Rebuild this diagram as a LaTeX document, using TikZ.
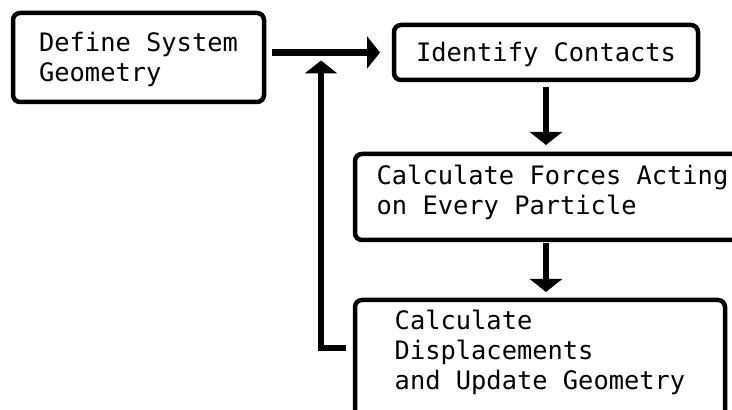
\documentclass[tikz,border=0pt]{standalone}
\usepackage{fontspec}
\setmonofont{DejaVu Sans Mono}
\usetikzlibrary{arrows.meta}

\begin{document}
\begin{tikzpicture}[x=1pt,y=1pt,->,>={Triangle[width=32pt,length=13pt]},line width=6.5pt,
    stepbox/.style={draw,-,rounded corners=7pt,line width=4.5pt,anchor=base west,align=left,
        inner sep=0pt,outer sep=0pt,font=\ttfamily\fontsize{25.4}{30}\selectfont}]
    \useasboundingbox (0,0) rectangle (732,410);

    % base = last line of text
    \node [stepbox, minimum width=251pt, text height=69pt, text depth=20pt](define) at (13,328) {Define System\\Geometry};
    \node [stepbox, minimum width=304pt, text height=37pt, text depth=18pt](contacts) at (394,348) {Identify Contacts};
    \node [stepbox, minimum width=395pt, text height=61pt, text depth=25pt](forces) at (355,195) {Calculate Forces Acting\\on Every Particle};
    \node [stepbox, minimum width=370pt, text height=90pt, text depth=40pt](update) at (355,20) {Calculate\\Displacements\\and Update Geometry};

    \coordinate (turn) at (321,62);

    \draw [shorten <=8pt, shorten >=14pt] (define.east |- contacts.west) -- (contacts.west);
    \draw [shorten <=7pt, shorten >=9pt] (contacts.south) -- (contacts.south |- forces.north);
    \draw [shorten <=3pt, shorten >=8pt] (forces.south -| contacts.south) -- (update.north -| contacts.south);
    \draw [shorten <=9pt, shorten >=8pt] (update.west |- turn) -- (turn) -- (turn |- contacts.west);

\end{tikzpicture}
\end{document}
